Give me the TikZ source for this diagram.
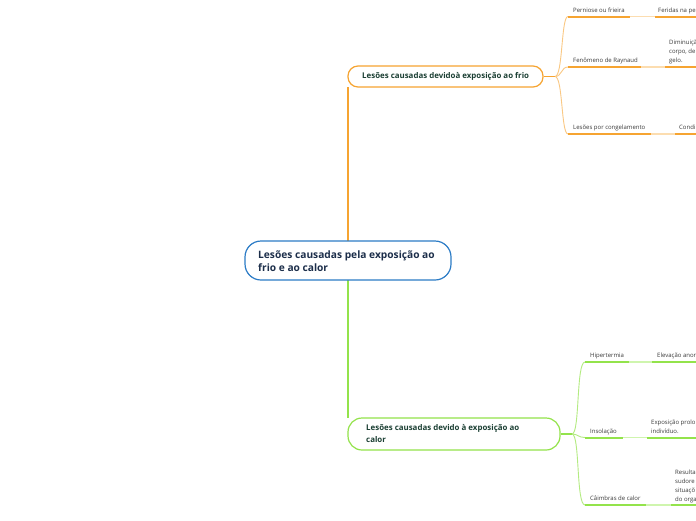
\documentclass[tikz,border=0pt]{standalone}
\usepackage{fontspec}
\setmainfont{Open Sans}
\definecolor{orn}{HTML}{F6A431}
\definecolor{ornl}{HTML}{FCDDB0}
\definecolor{grn}{HTML}{93E34B}
\definecolor{grnl}{HTML}{CFF5AE}
\definecolor{rootb}{HTML}{2C7CC6}
\definecolor{roott}{HTML}{1C2E4A}
\definecolor{brt}{HTML}{1B3F33}
\definecolor{smt}{HTML}{3A3A3A}
\tikzset{
  rootbox/.style={draw=rootb, line width=1.2pt, rounded corners=16pt, fill=white, minimum width=206pt, minimum height=39pt, inner sep=0pt},
  brbox/.style={line width=1.2pt, rounded corners=11pt, fill=white, inner sep=0pt},
  roottxt/.style={anchor=west, align=left, text=roott, font=\fontsize{10.2}{13.5}\selectfont\bfseries, inner sep=0pt},
  brtxt/.style={anchor=west, align=left, text=brt, font=\fontsize{7.9}{12}\selectfont\bfseries, inner sep=0pt},
  smtxt/.style={anchor=base west, align=left, text=smt, font=\fontsize{6}{9}\selectfont, inner sep=0pt},
  curveo/.style={draw=orn!60, line width=0.9pt},
  curveg/.style={draw=grn!70, line width=0.9pt},
  ulo/.style={draw=orn, line width=2pt},
  ulol/.style={draw=ornl, line width=1.8pt},
  ulg/.style={draw=grn, line width=2pt},
  ulgl/.style={draw=grnl, line width=1.8pt},
}
\begin{document}
\begin{tikzpicture}[x=1pt,y=-1pt]
\useasboundingbox (0,0) rectangle (696,520);
\clip (0,0) rectangle (696,520);
\fill[white] (0,0) rectangle (696,520);

% trunk lines
\coordinate (t1) at (348,241);
\coordinate (t2) at (348,280);
\coordinate (b1c) at (348,87);
\coordinate (b2c) at (348,418);
\draw[orn, line width=1.3pt] (t1) -- (b1c);
\draw[grn, line width=1.3pt] (t2) -- (b2c);

% root
\node[rootbox] (root) at (348,260.5) {};
\node[roottxt] (roottext) at (258,261) {Lesões causadas pela exposição ao\\frio e ao calor};

% branch 1
\node[brbox, draw=orn, minimum width=195pt, minimum height=21pt, rounded corners=10pt] (b1) at (445.5,76.5) {};
\node[brtxt] (b1text) at (362,76.5) {Lesões causadas devidoà exposição ao frio};

% branch 2
\node[brbox, draw=grn, minimum width=212pt, minimum height=32pt, rounded corners=14pt] (b2) at (454,434) {};
\node[brtxt] (b2text) at (366,434) {Lesões causadas devido à exposição ao\\calor};

% hubs
\coordinate (h1) at (555,76.5);
\coordinate (h2) at (572,434);
\draw[orn, line width=1.3pt] (b1.east) -- (h1);
\draw[grn, line width=1.3pt] (b2.east) -- (h2);

% orange children
\coordinate (p1s) at (568,16.5); \coordinate (p1e) at (630,16.5); \coordinate (q1s) at (655,16.5); \coordinate (q1e) at (700,16.5);
\coordinate (p2s) at (568,67); \coordinate (p2e) at (641,67); \coordinate (q2s) at (665,67); \coordinate (q2e) at (700,67);
\coordinate (p3s) at (568,134); \coordinate (p3e) at (651,134); \coordinate (q3s) at (675,134); \coordinate (q3e) at (700,134);

\draw[curveo] (h1) .. controls (563,76.5) and (561,16.5) .. (p1s);
\draw[curveo] (h1) .. controls (562,76.5) and (561,67) .. (p2s);
\draw[curveo] (h1) .. controls (563,76.5) and (561,134) .. (p3s);

\draw[ulo] (p1s) -- (p1e); \draw[ulol] (p1e) -- (q1s); \draw[ulo] (q1s) -- (q1e);
\draw[ulo] (p2s) -- (p2e); \draw[ulol] (p2e) -- (q2s); \draw[ulo] (q2s) -- (q2e);
\draw[ulo] (p3s) -- (p3e); \draw[ulol] (p3e) -- (q3s); \draw[ulo] (q3s) -- (q3e);

\node[smtxt] (c1) at (573,12) {Perniose ou frieira};
\node[smtxt] (d1) at (658,12) {Feridas na pe};
\node[smtxt] (c2) at (573,62.5) {Fenômeno de Raynaud};
\node[smtxt] (d2) at (669,62.5) {Diminuiçã\\corpo, de\\gelo.};
\node[smtxt] (c3) at (573,129.5) {Lesões por congelamento};
\node[smtxt] (d3) at (679,129.5) {Condi};

% green children
\coordinate (r1s) at (585,362); \coordinate (r1e) at (629,362); \coordinate (s1s) at (652,362); \coordinate (s1e) at (700,362);
\coordinate (r2s) at (585,437.5); \coordinate (r2e) at (623,437.5); \coordinate (s2s) at (647,437.5); \coordinate (s2e) at (700,437.5);
\coordinate (r3s) at (585,505); \coordinate (r3e) at (646,505); \coordinate (s3s) at (671,505); \coordinate (s3e) at (700,505);

\draw[curveg] (h2) .. controls (580,434) and (576,362) .. (r1s);
\draw[curveg] (h2) .. controls (578,434) and (578,437.5) .. (r2s);
\draw[curveg] (h2) .. controls (580,434) and (576,505) .. (r3s);

\draw[ulg] (r1s) -- (r1e); \draw[ulgl] (r1e) -- (s1s); \draw[ulg] (s1s) -- (s1e);
\draw[ulg] (r2s) -- (r2e); \draw[ulgl] (r2e) -- (s2s); \draw[ulg] (s2s) -- (s2e);
\draw[ulg] (r3s) -- (r3e); \draw[ulgl] (r3e) -- (s3s); \draw[ulg] (s3s) -- (s3e);

\node[smtxt] (e1) at (590,357.5) {Hipertermia};
\node[smtxt] (f1) at (657,357.5) {Elevação anor};
\node[smtxt] (e2) at (590,433) {Insolação};
\node[smtxt] (f2) at (651,433) {Exposição prolo\\indivíduo.};
\node[smtxt] (e3) at (590,500) {Câimbras de calor};
\node[smtxt] (f3) at (675,501) {Resulta\\sudore\\situaçõ\\do orga};
\end{tikzpicture}
\end{document}
